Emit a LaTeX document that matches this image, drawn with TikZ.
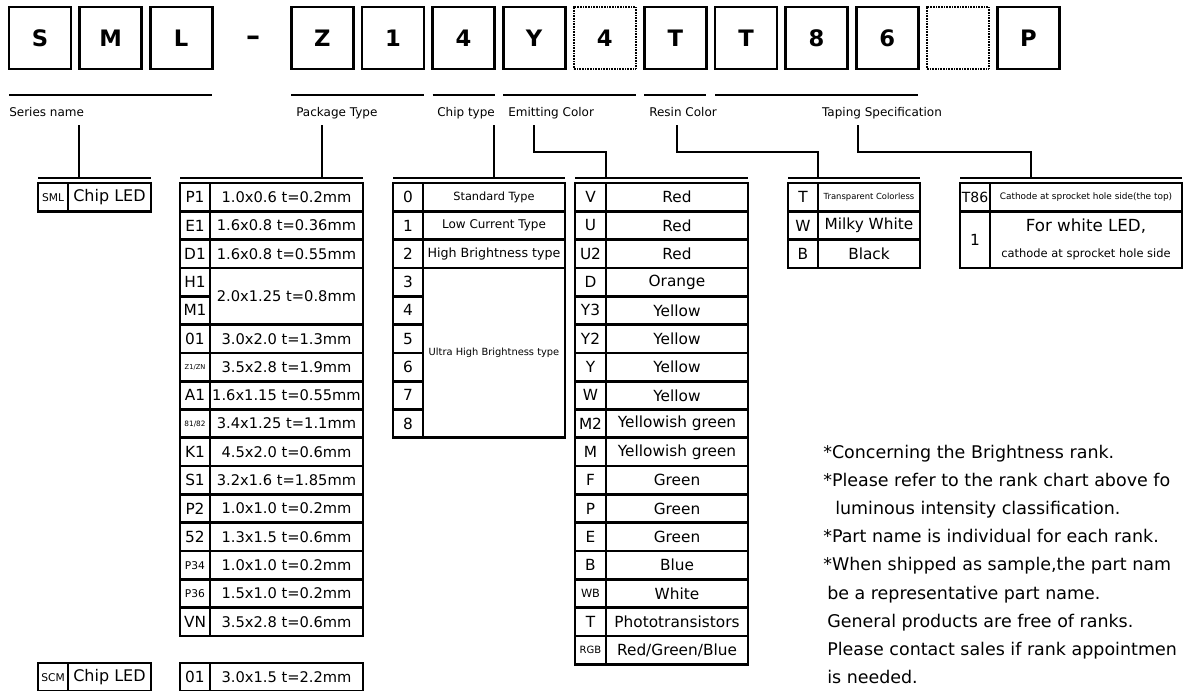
\documentclass[tikz,border=0pt]{standalone}
\usepackage{fontspec}
\setmainfont{DejaVu Sans}
\usetikzlibrary{positioning}
\newcommand{\fsz}[2]{{\fontsize{#1}{#1}\selectfont #2}}
\tikzset{
    % part number boxes
    charbox/.style={
        rectangle,
        draw=black,
        line width=2pt,
        minimum width=46.5pt,
        minimum height=46.5pt,
        inner sep=0pt,
        outer sep=0pt,
        font=\fontsize{17}{20}\selectfont\bfseries
    },
    charbox dotted/.style={
        charbox,
        line width=1.6pt,
        dash pattern=on 0.6pt off 0.6pt
    },
    bar/.style={line width=2.2pt},
    wire/.style={line width=1.6pt},
    tag/.style={inner sep=0pt, font=\fontsize{9}{11}\selectfont},
    % table cells
    cell/.style={
        rectangle,
        draw=black,
        line width=2pt,
        inner sep=0pt,
        outer sep=0pt,
        minimum height=21.23pt,
        anchor=north west,
        align=center,
        font=\fontsize{11.5}{13}\selectfont
    },
    code cell/.style={cell, minimum width=22.5pt},
    note/.style={anchor=base west, inner sep=0pt, font=\fontsize{13.1}{16}\selectfont}
}
\begin{document}
\begin{tikzpicture}[x=0.75pt, y=-0.75pt]
    \useasboundingbox (0,0) rectangle (1183,690);
    \fill[white] (0,0) rectangle (1183,690);
    \clip (0,0) rectangle (1183,690);

    % Part number
    \foreach \i/\ch in {0/S,1/M,2/L,4/Z,5/1,6/4,7/Y,9/T,10/T,11/8,12/6,14/P}
        \node[charbox] (c\i) at ({40+70.6*\i},38) {\ch};
    \node[charbox dotted] (c8) at ({40+70.6*8},38) {4};
    \node[charbox dotted] (c13) at ({40+70.6*13},38) {};
    \node[font=\fontsize{21}{24}\selectfont\bfseries] (c3) at (253,41) {\textendash};

    % Group bars and names
    \draw[bar] (c0.west |- 0,95) -- (c2.east |- 0,95);
    \draw[bar] (c4.west |- 0,95) -- (c5.east |- 0,95);
    \draw[bar] (c6.west |- 0,95) -- (c6.east |- 0,95);
    \draw[bar] (c7.west |- 0,95) -- (c8.east |- 0,95);
    \draw[bar] (c9.west |- 0,95) -- (c9.east |- 0,95);
    \draw[bar] (c10.west |- 0,95) -- (c12.east |- 0,95);
    \node[tag, anchor=base west] (lser) at (9,116) {Series name};
    \node[tag, anchor=base west] (lpkg) at (296,116) {Package Type};
    \node[tag, anchor=base west] (lchip) at (437,116) {Chip type};
    \node[tag, anchor=base west] (lem) at (508,116) {Emitting Color};
    \node[tag, anchor=base west] (lres) at (649,116) {Resin Color};
    \node[tag, anchor=base] (ltap) at (882,116) {Taping Specification};

    % Series
    \node[code cell] (smlc) at (38,183) {\fsz{8}{SML}};
    \node[cell, minimum width=62.25pt, right=0pt of smlc, font=\fontsize{12}{14}\selectfont] (smlv) {Chip LED};
    \node[code cell] (scmc) at (38,663) {\fsz{8}{SCM}};
    \node[cell, minimum width=62.25pt, right=0pt of scmc, font=\fontsize{12}{14}\selectfont] (scmv) {Chip LED};

    % Package type
    \foreach \i/\c/\v in {0/P1/1.0x0.6 t=0.2mm, 1/E1/1.6x0.8 t=0.36mm, 2/D1/1.6x0.8 t=0.55mm,
        5/01/3.0x2.0 t=1.3mm, 6/\fsz{5}{Z1/ZN}/3.5x2.8 t=1.9mm, 7/A1/1.6x1.15 t=0.55mm,
        8/\fsz{5.5}{81/82}/3.4x1.25 t=1.1mm, 9/K1/4.5x2.0 t=0.6mm, 10/S1/3.2x1.6 t=1.85mm,
        11/P2/1.0x1.0 t=0.2mm, 12/52/1.3x1.5 t=0.6mm, 13/\fsz{8}{P34}/1.0x1.0 t=0.2mm,
        14/\fsz{8}{P36}/1.5x1.0 t=0.2mm, 15/VN/3.5x2.8 t=0.6mm} {
        \node[code cell] (pkc\i) at (180,{183+28.31*\i}) {\c};
        \node[cell, minimum width=114.75pt, right=0pt of pkc\i, font=\fontsize{11}{13}\selectfont] (pkv\i) {\v};
    }
    \node[code cell] (pkc3) at (180,{183+28.31*3}) {H1};
    \node[code cell] (pkc4) at (180,{183+28.31*4}) {M1};
    \node[cell, minimum width=114.75pt, minimum height=42.46pt, font=\fontsize{11}{13}\selectfont] (pkv3) at (pkc3.north east) {2.0x1.25 t=0.8mm};
    \node[code cell] (scpc) at (180,663) {01};
    \node[cell, minimum width=114.75pt, right=0pt of scpc, font=\fontsize{11}{13}\selectfont] (scpv) {3.0x1.5 t=2.2mm};

    % Chip type
    \foreach \i in {0,...,8}
        \node[code cell] (chc\i) at (393,{183+28.31*\i}) {\i};
    \foreach \i/\v in {0/\fsz{8.5}{Standard Type}, 1/\fsz{9}{Low Current Type}, 2/\fsz{9.5}{High Brightness type}}
        \node[cell, minimum width=106.5pt, right=0pt of chc\i] (chv\i) {\v};
    \node[cell, minimum width=106.5pt, minimum height=127.4pt] (chv3) at (chc3.north east) {\fsz{7.4}{Ultra High Brightness type}};

    % Emitting color
    \foreach \i/\c/\v in {0/V/Red, 1/U/Red, 2/U2/Red, 3/D/Orange, 4/Y3/Yellow, 5/Y2/Yellow,
        6/Y/Yellow, 7/W/Yellow, 8/M2/Yellowish green, 9/M/Yellowish green, 10/F/Green,
        11/P/Green, 12/E/Green, 13/B/Blue, 14/\fsz{8.5}{WB}/White, 15/T/Phototransistors,
        16/\fsz{7.5}{RGB}/{Red/Green/Blue}} {
        \node[code cell, minimum width=23.25pt] (emc\i) at (575,{183+28.31*\i}) {\c};
        \node[cell, minimum width=106.5pt, right=0pt of emc\i] (emv\i) {\v};
    }

    % Resin color
    \foreach \i/\c/\v in {0/T/\fsz{6.3}{Transparent Colorless}, 1/W/Milky White, 2/B/Black} {
        \node[code cell] (rsc\i) at (788,{183+28.31*\i}) {\c};
        \node[cell, minimum width=76.5pt, right=0pt of rsc\i] (rsv\i) {\v};
    }

    % Taping
    \node[code cell] (tpc0) at (960,183) {\fsz{10.5}{T86}};
    \node[cell, minimum width=144pt, right=0pt of tpc0] (tpv0) {\fsz{6.7}{Cathode at sprocket hole side(the top)}};
    \node[code cell, minimum height=42.46pt] (tpc1) at (960,{183+28.31}) {1};
    \node[cell, minimum width=144pt, minimum height=42.46pt, right=0pt of tpc1] (tpv1)
        {\fsz{12.5}{For white LED,}\\[6.5pt]\fsz{8.6}{cathode at sprocket hole side}};

    % Bars over the tables
    \draw[bar] (smlc.north west |- 0,178) -- (smlv.north east |- 0,178);
    \draw[bar] (pkc0.north west |- 0,178) -- (pkv0.north east |- 0,178);
    \draw[bar] (chc0.north west |- 0,178) -- (chv0.north east |- 0,178);
    \draw[bar] (emc0.north west |- 0,178) -- (emv0.north east |- 0,178);
    \draw[bar] (rsc0.north west |- 0,178) -- (rsv0.north east |- 0,178);
    \draw[bar] (tpc0.north west |- 0,178) -- (tpv0.north east |- 0,178);

    % Connectors
    \coordinate (serIn) at (79,125);
    \coordinate (serOut) at (79,178);
    \coordinate (pkgIn) at (322,125);
    \coordinate (pkgOut) at (322,178);
    \coordinate (chipIn) at (494,125);
    \coordinate (chipOut) at (494,178);
    \coordinate (emIn) at (534,125);
    \coordinate (emOut) at (emc0.north east |- 0,178);
    \coordinate (resIn) at (677,125);
    \coordinate (resOut) at (rsc0.north east |- 0,178);
    \coordinate (tapIn) at (858,125);
    \coordinate (tapOut) at (1031,178);
    \draw[wire] (serIn) -- (serOut);
    \draw[wire] (pkgIn) -- (pkgOut);
    \draw[wire] (chipIn) -- (chipOut);
    \draw[wire] (emIn) -- ++(0,27) -| (emOut);
    \draw[wire] (resIn) -- ++(0,27) -| (resOut);
    \draw[wire] (tapIn) -- ++(0,27) -| (tapOut);

    % Notes
    \foreach \t [count=\k from 0] in {{*Concerning the Brightness rank.},
        {*Please refer to the rank chart above fo},
        {\hspace*{9pt}luminous intensity classification.},
        {*Part name is individual for each rank.},
        {*When shipped as sample,the part nam},
        {\hspace*{3pt}be a representative part name.},
        {\hspace*{3pt}General products are free of ranks.},
        {\hspace*{3pt}Please contact sales if rank appointmen},
        {\hspace*{3pt}is needed.}}
        \node[note] (note\k) at (823,{458.5+28.1*\k}) {\t};
\end{tikzpicture}
\end{document}
